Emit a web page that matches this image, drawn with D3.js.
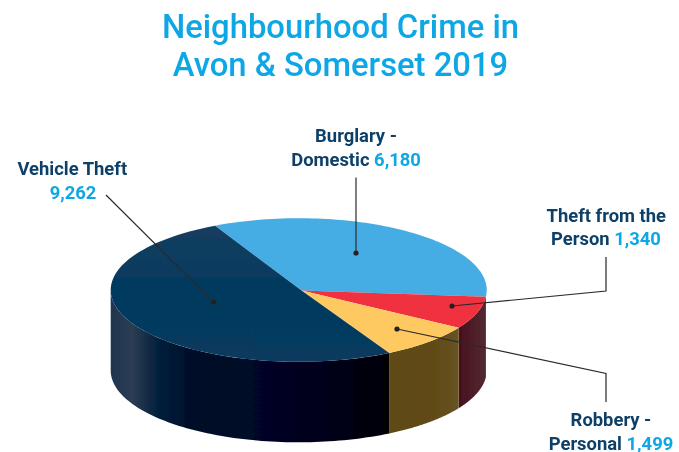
<!DOCTYPE html>
<html><head><meta charset="utf-8">
<script src="https://cdn.jsdelivr.net/npm/d3@7"></script>
<style>html,body{margin:0;padding:0;background:#fff;overflow:hidden}svg{display:block}</style>
</head><body><div id="c"></div>
<script>
const categories=["Burglary - Domestic","Theft from the Person","Robbery - Personal","Vehicle Theft"];
const values=[6180,1340,1499,9262];
const valueLabels=["6,180","1,340","1,499","9,262"];
const topColors=["#45ade3","#f03341","#fdc961","url(#navyTop)"];
const titleLines=["Neighbourhood Crime in","Avon & Somerset 2019"];

const W=679,H=452,cx=298.7,cy=290,rx=188,ry=71.8,depth=80.5,apexX=301.5,apexY=290.6;
const NAVY="#0f4068",CYAN="#0ea7e6";
const svg=d3.select("#c").append("svg").attr("width",W).attr("height",H).attr("viewBox",`0 0 ${W} ${H}`);
const defs=svg.append("defs");
defs.append("filter").attr("id","soft")
  .attr("filterUnits","userSpaceOnUse").attr("x",0).attr("y",0).attr("width",W).attr("height",H)
  .append("feGaussianBlur").attr("stdDeviation",0.35);
function grad(id,x1,x2,stops,vertical){
  const g=defs.append("linearGradient").attr("id",id).attr("gradientUnits","userSpaceOnUse");
  if(vertical)g.attr("x1",0).attr("x2",0).attr("y1",x1).attr("y2",x2);
  else g.attr("x1",x1).attr("x2",x2).attr("y1",0).attr("y2",0);
  stops.forEach(s=>g.append("stop").attr("offset",s[0]).attr("stop-color",s[1]));
}
grad("navyTop",218,362,[[0,"#173f60"],[.45,"#053a5e"],[1,"#073a5e"]],true);
grad("sideNavy",110,391,[[0,"#1f3550"],[.08,"#2b3d52"],[.17,"#03203c"],[.3,"#010c28"],[.55,"#000626"],[.8,"#000318"],[1,"#000004"]]);
grad("sideYellow",390,461,[[0,"#5f4812"],[.6,"#604a16"],[1,"#685424"]]);
grad("sideRed",461,489,[[0,"#48101f"],[.5,"#4f2029"],[1,"#542c33"]]);
const sideColors=["none","url(#sideRed)","url(#sideYellow)","url(#sideNavy)"];

const pie=d3.pie().sort(null).startAngle(-26.4*Math.PI/180).endAngle(333.6*Math.PI/180);
const arcs=pie(values);
const px=a=>cx+rx*Math.sin(a),py=a=>cy-ry*Math.cos(a);
const root=svg.append("g").attr("filter","url(#soft)");
const STEPS=80;

// side walls: only the front half of the rim is visible
const wall=root.append("g");
arcs.forEach((d,i)=>{
  const a0=Math.max(d.startAngle,Math.PI/2),a1=Math.min(d.endAngle,3*Math.PI/2);
  if(a1<=a0)return;
  const p=d3.path();
  for(let k=0;k<=STEPS;k++){const a=a0+(a1-a0)*k/STEPS;k?p.lineTo(px(a),py(a)):p.moveTo(px(a),py(a));}
  for(let k=STEPS;k>=0;k--){const a=a0+(a1-a0)*k/STEPS;p.lineTo(px(a),py(a)+depth);}
  p.closePath();
  wall.append("path").attr("d",p.toString()).attr("fill",sideColors[i]);
});
// top face: the wedges meet at an apex slightly off the ellipse centre, as in the picture
const face=root.append("g");
face.selectAll("path").data(arcs).join("path").attr("d",d=>{
  const p=d3.path();p.moveTo(apexX,apexY);
  for(let k=0;k<=STEPS;k++){const a=d.startAngle+(d.endAngle-d.startAngle)*k/STEPS;p.lineTo(px(a),py(a));}
  p.closePath();return p.toString();
}).attr("fill",(d,i)=>topColors[i]);

// leaders
const leaders=[
 [[356,253],[356,177.5]],
 [[452,306],[606,291],[606,257]],
 [[397,329],[606,373.5],[606,402]],
 [[213.5,302],[106,195]]
];
const line=d3.line();
leaders.forEach(l=>{
  root.append("path").attr("d",line(l)).attr("fill","none").attr("stroke","#2a2a2a").attr("stroke-width",1.2);
  root.append("circle").attr("cx",l[0][0]).attr("cy",l[0][1]).attr("r",2.6).attr("fill","#222");
});

// title
root.append("g").selectAll("text").data(titleLines).join("text")
 .attr("x",340.5).attr("y",(d,i)=>38.3+i*37.2).attr("text-anchor","middle")
 .attr("font-family","Roboto").attr("font-weight",500).attr("font-size",32.8).attr("fill",CYAN).text(d=>d);

// labels
const labelLayout=[
 {x:[356,356],y:[142,166],lines:["Burglary -","Domestic "],v:0},
 {x:[606.3,606],y:[222,245],lines:["Theft from the","Person "],v:1},
 {x:[611,611],y:[426,449.5],lines:["Robbery -","Personal "],v:2},
 {x:[72.3,73],y:[175,199],lines:["Vehicle Theft",""],v:3}
];
labelLayout.forEach(L=>{
  L.lines.forEach((t,j)=>{
    const tx=root.append("text").attr("x",L.x[j]).attr("y",L.y[j]).attr("text-anchor","middle")
      .attr("font-family","Roboto").attr("font-weight",700).attr("font-size",18.4).attr("fill",NAVY);
    tx.append("tspan").text(t);
    if(j==1)tx.append("tspan").attr("fill",CYAN).text(valueLabels[L.v]);
  });
});
</script></body></html>
